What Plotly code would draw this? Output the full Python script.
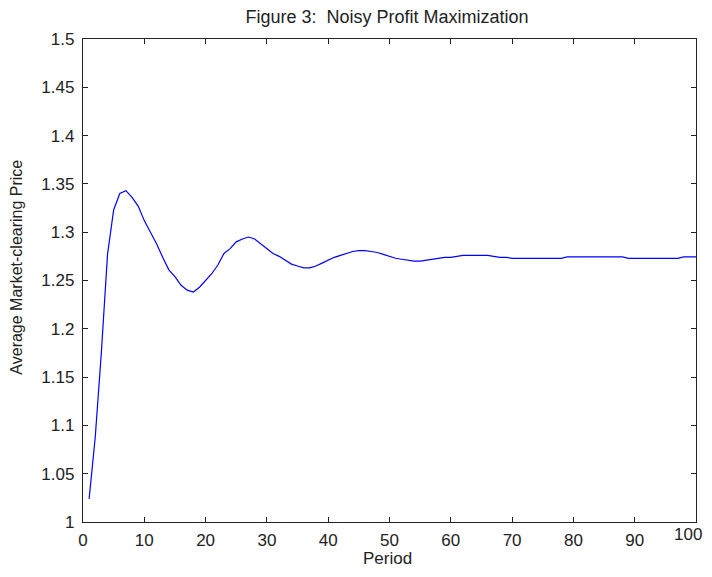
import plotly.graph_objects as go

# periodos e precos medios
periodo = list(range(1, 101))
preco = [1.024, 1.088, 1.176, 1.277, 1.323, 1.340, 1.343, 1.336, 1.327, 1.312,
         1.300, 1.288, 1.274, 1.261, 1.254, 1.245, 1.240, 1.238, 1.243, 1.250,
         1.257, 1.266, 1.278, 1.283, 1.290, 1.293, 1.295, 1.293, 1.288, 1.283,
         1.278, 1.275, 1.271, 1.267, 1.265, 1.263, 1.263, 1.265, 1.268, 1.271,
         1.274, 1.276, 1.278, 1.280, 1.281, 1.281, 1.280, 1.279, 1.277, 1.275,
         1.273, 1.272, 1.271, 1.270, 1.270, 1.271, 1.272, 1.273, 1.274, 1.274,
         1.275, 1.276, 1.276, 1.276, 1.276, 1.276, 1.275, 1.274, 1.274, 1.273,
         1.273, 1.273, 1.273, 1.273, 1.273, 1.273, 1.273, 1.273, 1.2745, 1.2745,
         1.2745, 1.2745, 1.2745, 1.2745, 1.2745, 1.2745, 1.2745, 1.2745, 1.273, 1.273,
         1.273, 1.273, 1.273, 1.273, 1.273, 1.273, 1.273, 1.2745, 1.2745, 1.2745]

ticks_x = [0, 10, 20, 30, 40, 50, 60, 70, 80, 90, 100]
# o rotulo 100 fica vazio no eixo e vai como anotacao encostada na borda
rotulos_x = ['0', '10', '20', '30', '40', '50', '60', '70', '80', '90', '']
ultimo_x = '100'

titulo = 'Figure 3:\u00a0\u00a0Noisy Profit Maximization'
rotulo_x = 'Period'
rotulo_y = 'Average Market-clearing Price'

fig = go.Figure()
fig.add_trace(go.Scatter(x = periodo,
                         y = preco,
                         mode = 'lines',
                         line = dict(color = '#0000ff', width = 1.2),
                         showlegend = False))

eixo = dict(showline = True,
            linecolor = '#222222',
            linewidth = 1.4,
            mirror = 'ticks',
            ticks = 'inside',
            ticklen = 5,
            tickcolor = '#222222',
            showgrid = False,
            zeroline = False,
            tickfont = dict(size = 17, color = '#222222'))

# o body da pagina tem margem de 8px: figura menor para caber na janela sem rolagem
fig.update_layout(width = 696, height = 561,
                  margin = dict(l = 75, r = 8, t = 31, b = 47),
                  paper_bgcolor = 'white',
                  plot_bgcolor = 'white',
                  font = dict(family = 'Liberation Sans, Arial', size = 17, color = '#222222'),
                  title = dict(text = titulo, xref = 'container', x = 0.5445, xanchor = 'center',
                               yref = 'container', y = 0.984, yanchor = 'middle',
                               font = dict(size = 18, color = '#222222')))

fig.update_xaxes(eixo, range = [0, 100], tickmode = 'array',
                 tickvals = ticks_x, ticktext = rotulos_x,
                 ticklabelstandoff = 2)
fig.update_yaxes(eixo, range = [1, 1.5], tickmode = 'linear', tick0 = 1, dtick = 0.05,
                 ticklabelstandoff = 4)

fig.add_annotation(text = ultimo_x, xref = 'paper', yref = 'paper',
                   x = 1, y = 0, xanchor = 'right', yanchor = 'top',
                   xshift = 7, yshift = -2, borderpad = 0, showarrow = False,
                   font = dict(size = 17, color = '#222222'))
fig.add_annotation(text = rotulo_x, xref = 'paper', yref = 'paper',
                   x = 0.496, y = -0.0973, xanchor = 'center', yanchor = 'bottom',
                   borderpad = 0, showarrow = False, font = dict(size = 17))
fig.add_annotation(text = rotulo_y, xref = 'paper', yref = 'paper',
                   x = -0.109, y = 0.527, xanchor = 'center', yanchor = 'middle',
                   textangle = -90, showarrow = False, font = dict(size = 16))

fig.write_html("out.html")
